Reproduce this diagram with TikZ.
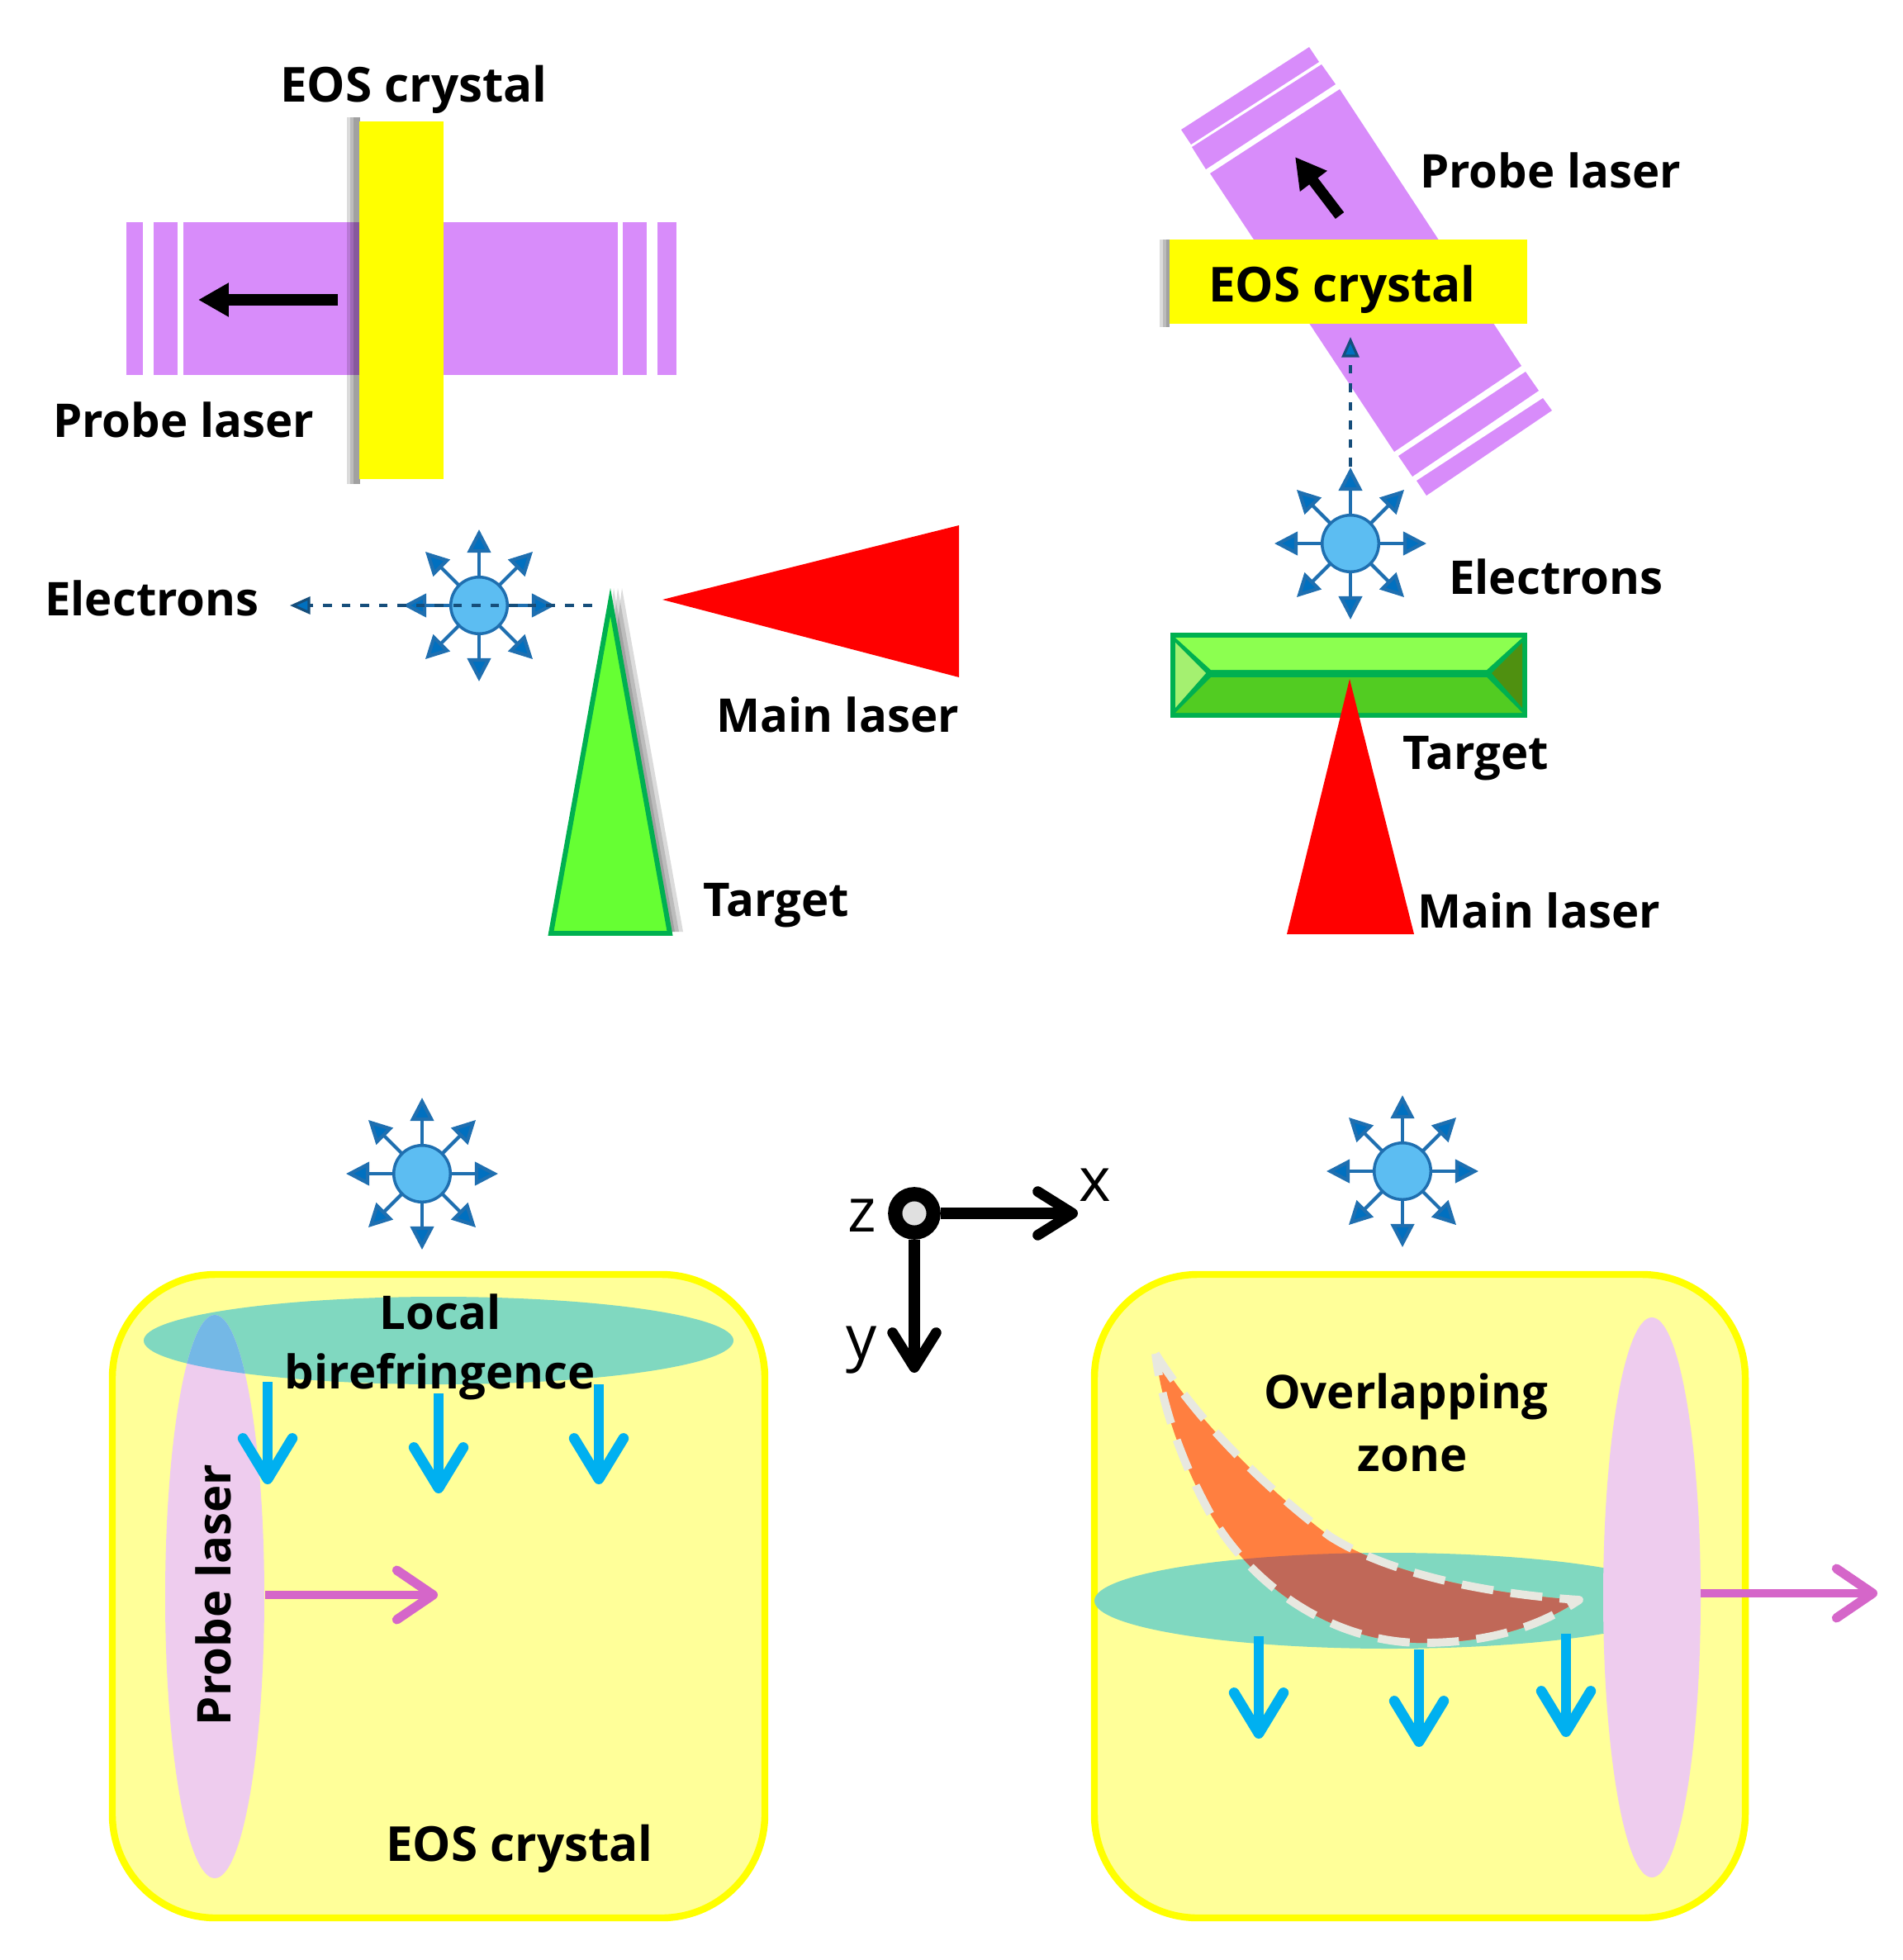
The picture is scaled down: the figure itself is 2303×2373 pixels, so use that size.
\documentclass[tikz,border=0pt]{standalone}
\usepackage{fontspec}
\setmainfont{Open Sans}
\usetikzlibrary{arrows.meta,calc}
\definecolor{probe}{HTML}{D88CFA}
\definecolor{eos}{HTML}{FFFF00}
\definecolor{eospale}{HTML}{FFFF99}
\definecolor{tgt}{HTML}{66FF33}
\definecolor{tgtline}{HTML}{00B050}
\definecolor{laser}{HTML}{FF0000}
\definecolor{ball}{HTML}{5CBDF2}
\definecolor{balledge}{HTML}{1F6FB0}
\definecolor{tip}{HTML}{0070C0}
\definecolor{teal}{HTML}{80D8C0}
\definecolor{pinkell}{HTML}{EECCEE}
\definecolor{cyanarrow}{HTML}{00B0F0}
\definecolor{magarrow}{HTML}{D566C9}
\definecolor{facetop}{HTML}{8CFF50}
\definecolor{facebot}{HTML}{52CC22}
\definecolor{faceleft}{HTML}{A4F070}
\definecolor{faceright}{HTML}{4F9010}
\definecolor{overlapblue}{HTML}{74B8E6}
\definecolor{zoneorange}{HTML}{FF7F40}
\definecolor{zonedark}{HTML}{C06858}
\definecolor{zonedash}{HTML}{E8E8E0}
\definecolor{axisdot}{HTML}{E0E0E0}
\tikzset{
  lbl/.style={font=\fontsize{16}{18}\selectfont\bfseries,text=black,inner sep=0pt,align=center},
  lblw/.style={font=\fontsize{16.6}{18}\selectfont\bfseries,text=black,inner sep=0pt,align=center},
  axlbl/.style={font=\fontsize{21}{24}\selectfont,text=black,inner sep=0pt},
  burstarrow/.style={draw=balledge,line width=1.2pt,-{Triangle[length=8pt,width=8pt,fill=tip]}},
  beam/.style={draw=balledge!70!black,line width=0.9pt,dash pattern=on 3pt off 3.4pt},
  ballstyle/.style={circle,draw=balledge,fill=ball,line width=1pt,minimum size=19.5pt,inner sep=0pt},
  cyanarr/.style={draw=cyanarrow,line width=3.4pt,-{Straight Barb[length=14pt,width=17pt,line width=3.6pt,round]}},
  magarr/.style={draw=magarrow,line width=3pt,-{Straight Barb[length=12.5pt,width=17pt,line width=3.2pt,round]}},
  blackarr/.style={draw=black,line width=3.7pt,-{Triangle[length=10.5pt,width=11pt]}},
  axarr/.style={draw=black,line width=3.8pt,-{Straight Barb[length=12pt,width=15pt,line width=3.6pt,round]}},
  stripe/.style={fill=probe},
  crystalbox/.style={draw=eos,fill=eospale,line width=2.4pt,rounded corners=1.25cm},
  softshade/.style={fill=black,opacity=0.14}
}
\newcommand{\burst}[3]{%
  \node[ballstyle] (#1) at (#2,#3) {};
  \foreach \a/\n in {0/e,45/ne,90/n,135/nw,180/w,225/sw,270/s,315/se}{
    \coordinate (#1\n) at ($(#1)+(\a:0.92cm)$);
    \draw[burstarrow] (#1) ++(\a:0.34cm) -- (#1\n);
  }
}
\begin{document}
\begin{tikzpicture}[x=0.01cm,y=-0.01cm]
\useasboundingbox (0,0) rectangle (2303,2373);

% ---- top left
\fill[stripe] (153,269) rectangle (173,454);
\fill[stripe] (186,269) rectangle (215,454);
\fill[stripe] (222,269) rectangle (748,454);
\fill[stripe] (754,269) rectangle (783,454);
\fill[stripe] (796,269) rectangle (819,454);
\foreach \xa in {420,424,428}{\fill[softshade] (\xa,142) rectangle (436,586);}
\fill[eos] (435,147) rectangle (537,580);
\coordinate (pa1) at (409,363);
\coordinate (pa2) at (240,363);
\draw[blackarr] (pa1) -- (pa2);
\node[lblw] (t1) at (501,108) {EOS crystal};
\node[lbl] (t2) at (222,508) {Probe laser};
\node[lbl] (t3) at (184,724) {Electrons};
\node[lbl] (t4) at (1014,865) {Main laser};
\node[lbl] (t5) at (940,1096) {Target};

\foreach \dx in {4,9,14}{\fill[softshade] (741+\dx-2,712) -- (813+\dx,1128) -- (700,1128) -- cycle;}
\draw[fill=tgt,draw=tgtline,line width=1.7pt,line join=miter] (739,729) -- (811,1130) -- (667,1130) -- cycle;
\fill[laser] (802,726) -- (1161,636) -- (1161,820) -- cycle;

\burst{b1}{580}{733}
\coordinate (d1a) at (717,733);
\coordinate (d1b) at (351,733);
\draw[beam,-{Triangle[length=7pt,width=6pt,fill=tip]}] (d1a) -- (d1b);

% ---- top right
\fill[stripe] (1622,108) -- (1465,210) -- (1688,547) -- (1842,443) -- cycle;
\fill[stripe] (1585,57) -- (1597,75) -- (1442,175) -- (1430,157) -- cycle;
\fill[stripe] (1600,78) -- (1617,102) -- (1460,205) -- (1443,178) -- cycle;
\fill[stripe] (1847,450) -- (1863,473) -- (1710,577) -- (1693,552) -- cycle;
\fill[stripe] (1868,482) -- (1879,497) -- (1727,600) -- (1715,582) -- cycle;
\foreach \xa in {1404,1408,1412}{\fill[softshade] (\xa,290) rectangle (1416,396);}
\fill[eos] (1416,290) rectangle (1849,392);
\node[lblw] (t6) at (1625,350) {EOS crystal};
\node[lbl] (t7) at (1877,206) {Probe laser};
\node[lbl] (t8) at (1884,698) {Electrons};
\node[lbl] (t9) at (1787,918) {Target};
\node[lbl] (t10) at (1863,1102) {Main laser};
\coordinate (pb1) at (1622,261);
\coordinate (pb2) at (1568,190);
\draw[blackarr] (pb1) -- (pb2);

\burst{b2}{1635}{658}
\coordinate (d2a) at (1635,565);
\coordinate (d2b) at (1635,408);
\draw[beam,-{Triangle[length=7pt,width=6pt,fill=tip]}] (d2a) -- (d2b);

% target block
\fill[tgtline] (1417,766) rectangle (1849,869);
\fill[facetop] (1423,772) -- (1843,772) -- (1800,811) -- (1466,811) -- cycle;
\fill[facebot] (1466,820) -- (1800,820) -- (1843,863) -- (1423,863) -- cycle;
\fill[faceleft] (1423,778) -- (1460,815) -- (1423,857) -- cycle;
\fill[faceright] (1843,778) -- (1806,815) -- (1843,857) -- cycle;
\fill[laser] (1634,822) -- (1712,1131) -- (1558,1131) -- cycle;

% ---- bottom left panel
\draw[crystalbox] (136,1543) rectangle (926,2322);
\fill[teal] (531,1623) ellipse [x radius=357,y radius=53];
\fill[pinkell] (260,1933) ellipse [x radius=60,y radius=341];
\begin{scope}
  \clip (531,1623) ellipse [x radius=357,y radius=53];
  \fill[overlapblue] (260,1933) ellipse [x radius=60,y radius=341];
\end{scope}
\foreach \n/\xa/\ya/\yb in {l1/324/1673/1797,l2/531/1687/1808,l3/725/1676/1797}{
  \coordinate (\n a) at (\xa,\ya);
  \coordinate (\n b) at (\xa,\yb);
  \draw[cyanarr] (\n a) -- (\n b);
}
\coordinate (lm1) at (321,1931);
\coordinate (lm2) at (530,1931);
\draw[magarr] (lm1) -- (lm2);
\node[lbl] (t11) at (533,1588) {Local};
\node[lbl] (t12) at (533,1667) {birefringence};
\node[lbl,rotate=90] (t13) at (258,1931) {Probe laser};
\node[lblw] (t14) at (629,2238) {EOS crystal};
\burst{b3}{511}{1421}

% ---- axes
\node[circle,draw=black,fill=axisdot,line width=4.9pt,minimum size=13.2pt,inner sep=0pt] (zz) at (1107,1469) {};
\coordinate (ax) at (1305,1469);
\coordinate (ay) at (1107,1662);
\draw[axarr] (zz) -- (ax);
\draw[axarr] (zz) -- (ay);
\node[axlbl] (tz) at (1044,1472) {z};
\node[axlbl] (tx) at (1326,1435) {x};
\node[axlbl] (ty) at (1043,1635) {y};

% ---- bottom right panel
\draw[crystalbox] (1325,1543) rectangle (2113,2322);
\fill[teal] (1682,1938) ellipse [x radius=357,y radius=58];
\def\zonepath{(1399,1639) .. controls (1450,1720) and (1530,1800) .. (1610,1860)
  .. controls (1680,1905) and (1800,1930) .. (1912,1937)
  .. controls (1855,1975) and (1790,1990) .. (1715,1989)
  .. controls (1600,1985) and (1510,1910) .. (1466,1834)
  .. controls (1425,1760) and (1405,1690) .. (1399,1639) -- cycle}
\fill[zoneorange] \zonepath;
\begin{scope}
  \clip (1682,1938) ellipse [x radius=357,y radius=58];
  \fill[zonedark] \zonepath;
\end{scope}
\draw[draw=zonedash,line width=2.8pt,line join=round,dash pattern=on 11pt off 6pt] \zonepath;
\fill[pinkell] (2000,1934) ellipse [x radius=59,y radius=339];
\foreach \n/\xa/\ya/\yb in {r1/1524/1981/2105,r2/1718/1997/2115,r3/1896/1978/2103}{
  \coordinate (\n a) at (\xa,\ya);
  \coordinate (\n b) at (\xa,\yb);
  \draw[cyanarr] (\n a) -- (\n b);
}
\coordinate (rm1) at (2059,1929);
\coordinate (rm2) at (2273,1929);
\draw[magarr] (rm1) -- (rm2);
\node[lbl] (t15) at (1702,1691) {Overlapping};
\node[lbl] (t16) at (1710,1766) {zone};
\burst{b4}{1698}{1418}
\end{tikzpicture}
\end{document}
